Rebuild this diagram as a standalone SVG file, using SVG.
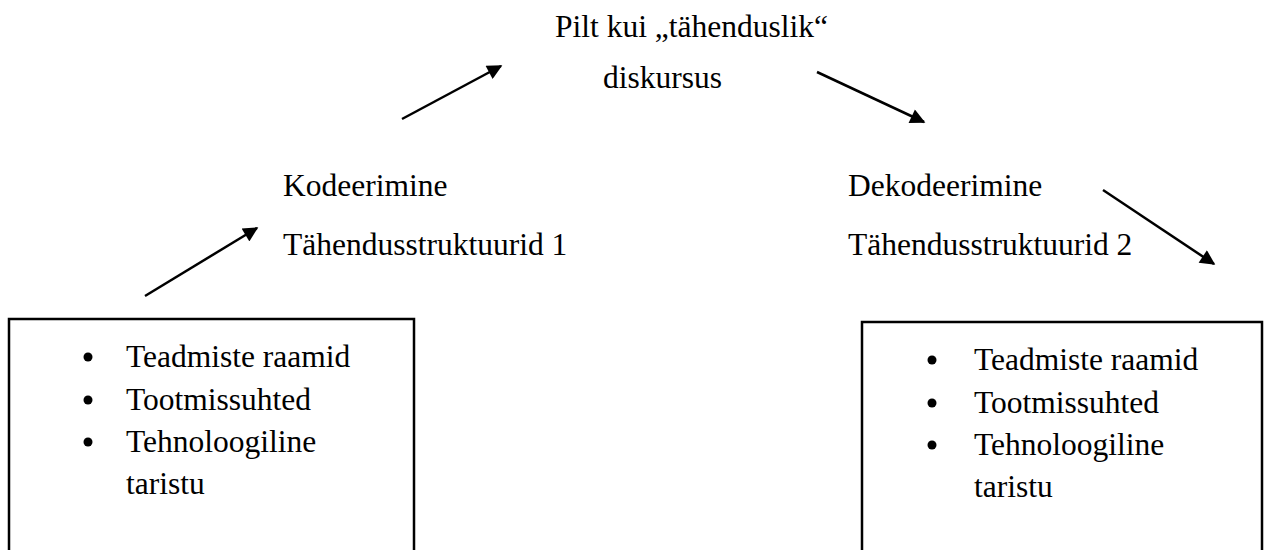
<svg xmlns="http://www.w3.org/2000/svg" width="1264" height="550" viewBox="0 0 1264 550">
<style>
.t{font-family:'Liberation Serif','Times New Roman',Times,serif;font-size:31.5px;fill:#000}
.box{fill:#fff;stroke:#000;stroke-width:2.5}
.arr{stroke:#000;stroke-width:2.5;fill:none}
</style>
<defs>
<marker id="ah" viewBox="0 0 10 10" refX="9" refY="5" markerWidth="6.5" markerHeight="6" orient="auto" markerUnits="strokeWidth">
<path d="M0,0 L10,5 L0,10 z" fill="#000"/>
</marker>
</defs>
<rect width="1264" height="550" fill="#fff"/>
<g id="top" class="t" font-family="Liberation Serif, serif">
<text x="555" y="37">Pilt kui „tähenduslik“</text>
<text x="603" y="88">diskursus</text>
</g>
<g id="enc" class="t" font-family="Liberation Serif, serif">
<text x="283" y="196">Kodeerimine</text>
<text x="283" y="255">Tähendusstruktuurid 1</text>
</g>
<g id="dec" class="t" font-family="Liberation Serif, serif">
<text x="848" y="196">Dekodeerimine</text>
<text x="848" y="255">Tähendusstruktuurid 2</text>
</g>
<g id="box1" class="t" font-family="Liberation Serif, serif">
<rect class="box" x="9" y="319" width="405" height="240"/>
<circle cx="88" cy="357" r="4.5"/>
<circle cx="88" cy="400" r="4.5"/>
<circle cx="88" cy="442" r="4.5"/>
<text x="126" y="367">Teadmiste raamid</text>
<text x="126" y="410">Tootmissuhted</text>
<text x="126" y="452">Tehnoloogiline</text>
<text x="126" y="494">taristu</text>
</g>
<g id="box2" class="t" font-family="Liberation Serif, serif">
<rect class="box" x="862" y="322" width="400" height="240"/>
<circle cx="932" cy="360" r="4.5"/>
<circle cx="932" cy="403" r="4.5"/>
<circle cx="932" cy="445" r="4.5"/>
<text x="974" y="370">Teadmiste raamid</text>
<text x="974" y="413">Tootmissuhted</text>
<text x="974" y="455">Tehnoloogiline</text>
<text x="974" y="497">taristu</text>
</g>
<g id="connectors">
<line class="arr" marker-end="url(#ah)" x1="145" y1="296" x2="257" y2="228"/>
<line class="arr" marker-end="url(#ah)" x1="402" y1="119" x2="501" y2="66"/>
<line class="arr" marker-end="url(#ah)" x1="817" y1="72" x2="924" y2="122"/>
<line class="arr" marker-end="url(#ah)" x1="1103" y1="190" x2="1214" y2="264"/>
</g>
</svg>
